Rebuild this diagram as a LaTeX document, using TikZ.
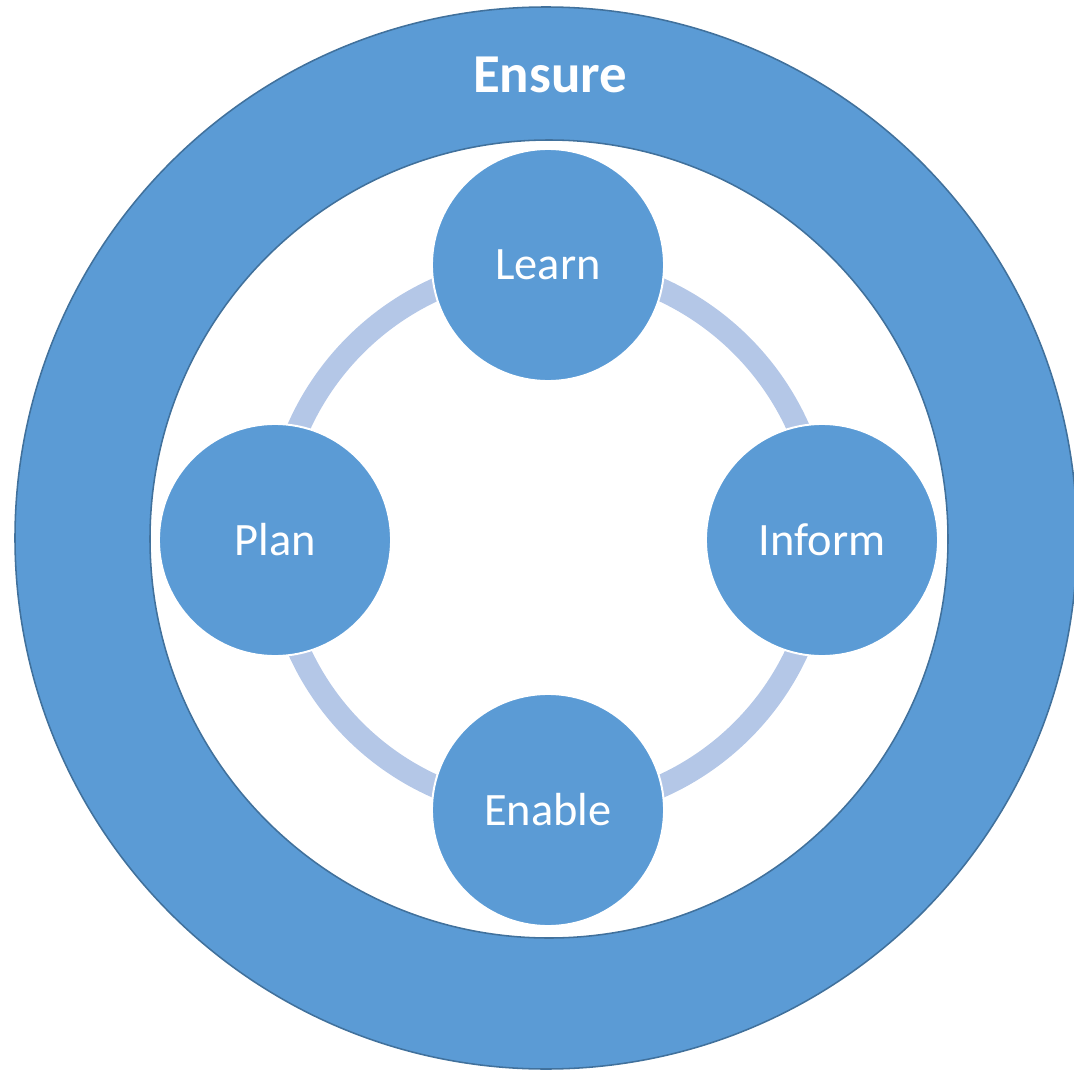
\documentclass[tikz,border=0pt]{standalone}
\usepackage{fontspec}
\setmainfont{Carlito}
\usetikzlibrary{backgrounds}

\definecolor{mainblue}{HTML}{5B9BD5}
\definecolor{edgeblue}{HTML}{41719C}
\definecolor{paleblue}{HTML}{B4C7E7}

\begin{document}
\begin{tikzpicture}[x=0.025cm,y=-0.025cm,
  stage/.style={circle, fill=mainblue, draw=white, line width=1.4pt, minimum size=5.8cm, inner sep=0pt, text=white, font=\fontsize{33}{39}\selectfont},
  cyclearc/.style={draw=paleblue, line width=16.2pt}]
  \useasboundingbox (0,0) rectangle (1074,1071);

  \draw[edgeblue, line width=1.1pt, fill=mainblue, even odd rule] (546,538) circle (531) (549,539) circle (399);
  \node[text=white, font=\bfseries\fontsize{39}{46}\selectfont] (ensure) at (550,75) {Ensure};

  \node[stage] (learn) at (548,265) {Learn};
  \node[stage] (inform) at (822,540) {Inform};
  \node[stage] (enable) at (548,810) {Enable};
  \node[stage] (plan) at (275,540) {Plan};

  \begin{pgfonlayer}{background}
    \draw[cyclearc] (learn.center) to[bend left=45] (inform.center);
    \draw[cyclearc] (inform.center) to[bend left=45] (enable.center);
    \draw[cyclearc] (enable.center) to[bend left=45] (plan.center);
    \draw[cyclearc] (plan.center) to[bend left=45] (learn.center);
  \end{pgfonlayer}

\end{tikzpicture}
\end{document}
